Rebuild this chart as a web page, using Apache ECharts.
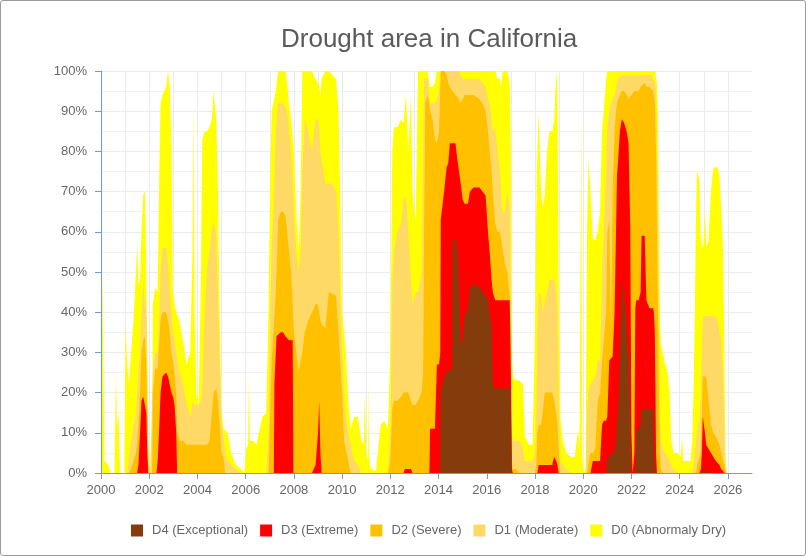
<!DOCTYPE html>
<html>
<head>
<meta charset="utf-8">
<script src="https://cdn.jsdelivr.net/npm/echarts@6/dist/echarts.min.js"></script>
<style>
html,body{margin:0;padding:0;background:#fff;}
#wrap{position:relative;width:806px;height:556px;}
#chart{width:806px;height:556px;}
#wrap:after{content:"";position:absolute;left:0;top:0;right:0;bottom:0;border:1px solid #9a9a9a;border-radius:3px;pointer-events:none;}
</style>
</head>
<body>
<div id="wrap"><div id="chart"></div></div>
<script>
// ---- data (decimal year, percent of California area) ----
const xTickYears = [2000,2002,2004,2006,2008,2010,2012,2014,2016,2018,2020,2022,2024,2026];
const seriesNames = ['D0 (Abnormaly Dry)','D1 (Moderate)','D2 (Severe)','D3 (Extreme)','D4 (Exceptional)'];
const legendOrder = ['D4 (Exceptional)','D3 (Extreme)','D2 (Severe)','D1 (Moderate)','D0 (Abnormaly Dry)'];

const d0 = [[2000.00,60],[2000.06,45],[2000.11,20],[2000.15,3],[2000.30,2],[2000.40,0],[2000.56,0],[2000.62,25],[2000.66,12],[2000.72,15],[2000.77,4],[2000.80,0],[2000.97,0],[2001.02,37],[2001.08,28],[2001.15,22],[2001.25,30],[2001.35,38],[2001.45,50],[2001.50,57],[2001.55,47],[2001.62,48],[2001.68,60],[2001.75,69],[2001.82,70],[2001.88,50],[2001.92,30],[2001.96,8],[2002.04,1],[2002.12,2],[2002.15,42],[2002.25,46],[2002.35,45],[2002.42,75],[2002.47,92],[2002.55,94],[2002.70,96],[2002.78,100],[2002.85,96],[2002.92,82],[2002.98,45],[2003.05,42],[2003.12,40],[2003.25,38],[2003.40,33],[2003.55,27],[2003.70,30],[2003.80,55],[2003.85,92],[2003.88,40],[2003.95,20],[2004.05,17],[2004.15,50],[2004.20,83],[2004.30,85],[2004.40,85],[2004.50,86],[2004.60,88],[2004.67,95],[2004.72,95],[2004.78,88],[2004.85,70],[2004.92,40],[2005.00,15],[2005.08,11],[2005.15,11],[2005.25,10],[2005.40,5],[2005.60,2],[2005.80,1],[2005.95,0],[2006.02,6],[2006.10,7],[2006.14,24],[2006.17,8],[2006.30,8],[2006.45,7],[2006.55,10],[2006.70,14],[2006.85,15],[2006.95,40],[2007.02,75],[2007.08,90],[2007.15,92],[2007.25,95],[2007.35,100],[2007.65,100],[2007.72,97],[2007.80,92],[2007.88,88],[2007.93,85],[2008.00,80],[2008.10,65],[2008.20,55],[2008.28,70],[2008.35,100],[2008.75,100],[2008.90,98],[2009.00,97],[2009.05,96],[2009.10,94],[2009.15,98],[2009.30,100],[2009.45,100],[2009.60,99],[2009.75,98],[2009.85,90],[2009.92,70],[2010.00,40],[2010.08,35],[2010.15,30],[2010.25,18],[2010.35,11],[2010.50,14],[2010.65,14],[2010.80,8],[2010.90,7],[2010.95,20],[2011.00,5],[2011.08,3],[2011.11,22],[2011.14,2],[2011.20,1],[2011.40,0.5],[2011.60,12],[2011.75,13],[2011.90,11],[2012.00,30],[2012.08,80],[2012.15,86],[2012.30,86],[2012.45,88],[2012.55,87],[2012.65,94],[2012.75,80],[2012.85,94],[2012.92,70],[2013.05,62],[2013.15,100],[2013.55,100],[2013.62,97],[2013.65,96],[2013.75,96],[2013.85,97],[2013.93,100],[2016.35,100],[2016.45,98],[2016.55,98],[2016.60,96],[2016.65,100],[2016.85,100],[2016.95,97],[2017.00,80],[2017.04,30],[2017.08,24],[2017.20,23],[2017.35,23],[2017.50,22],[2017.58,9],[2017.75,7],[2017.90,7],[2018.00,35],[2018.05,65],[2018.10,80],[2018.15,90],[2018.25,70],[2018.32,66],[2018.40,69],[2018.50,80],[2018.60,85],[2018.72,85],[2018.80,88],[2018.88,100],[2018.93,95],[2018.98,50],[2019.05,14],[2019.15,8],[2019.30,5],[2019.50,4],[2019.65,4],[2019.75,9],[2019.80,11],[2019.85,4],[2019.90,4],[2019.92,90],[2019.94,90],[2019.96,5],[2020.00,1],[2020.05,0],[2020.10,1],[2020.16,60],[2020.22,78],[2020.30,70],[2020.40,58],[2020.50,58],[2020.60,60],[2020.70,65],[2020.78,85],[2020.85,90],[2020.95,98],[2021.00,100],[2022.97,100],[2023.02,98],[2023.06,97],[2023.10,90],[2023.14,60],[2023.18,40],[2023.22,32],[2023.30,30],[2023.40,27],[2023.50,25],[2023.58,20],[2023.65,8],[2023.75,5],[2023.90,5],[2024.05,4],[2024.10,9],[2024.15,3],[2024.45,3],[2024.52,8],[2024.58,21],[2024.63,40],[2024.68,65],[2024.72,75],[2024.78,75],[2024.82,73],[2024.88,55],[2024.92,60],[2024.96,56],[2025.00,57],[2025.05,66],[2025.10,56],[2025.20,58],[2025.30,70],[2025.40,76],[2025.58,76],[2025.65,74],[2025.72,66],[2025.80,55],[2025.86,25],[2025.90,5],[2025.94,0]];

const d1 = [[2000.00,0],[2001.08,0],[2001.15,3],[2001.25,8],[2001.35,12],[2001.45,15],[2001.50,20],[2001.55,25],[2001.62,30],[2001.68,40],[2001.75,47],[2001.82,47],[2001.88,40],[2001.92,20],[2001.96,3],[2002.04,0],[2002.12,0],[2002.15,25],[2002.25,30],[2002.35,30],[2002.42,40],[2002.47,50],[2002.55,56],[2002.70,56],[2002.78,52],[2002.85,45],[2002.92,40],[2002.98,35],[2003.05,33],[2003.12,30],[2003.16,28],[2003.25,25],[2003.40,22],[2003.55,17],[2003.70,14],[2003.80,18],[2003.88,17],[2004.05,17],[2004.15,18],[2004.20,20],[2004.30,40],[2004.40,51],[2004.50,55],[2004.60,61],[2004.72,62],[2004.78,58],[2004.85,45],[2004.92,28],[2005.00,12],[2005.08,9],[2005.15,5],[2005.25,3],[2005.40,2],[2005.60,1],[2005.80,0],[2006.85,0],[2006.95,10],[2007.02,40],[2007.08,55],[2007.15,65],[2007.25,85],[2007.35,92],[2007.55,92],[2007.65,91],[2007.72,90],[2007.80,85],[2007.88,80],[2007.93,75],[2008.00,65],[2008.10,55],[2008.20,50],[2008.28,55],[2008.35,75],[2008.45,88],[2008.60,85],[2008.75,80],[2008.90,88],[2009.00,88],[2009.05,85],[2009.10,80],[2009.15,78],[2009.30,72],[2009.60,72],[2009.75,70],[2009.85,60],[2009.92,45],[2010.00,30],[2010.08,18],[2010.15,14],[2010.25,10],[2010.35,7],[2010.50,3],[2010.65,2],[2010.80,0],[2011.90,0],[2012.00,10],[2012.08,46],[2012.15,55],[2012.30,60],[2012.45,62],[2012.55,68],[2012.65,69],[2012.75,60],[2012.85,48],[2012.92,42],[2013.05,45],[2013.15,45],[2013.30,50],[2013.36,80],[2013.40,98],[2013.55,98],[2013.62,93],[2013.65,92],[2013.85,92],[2013.93,93],[2014.02,95],[2014.07,98],[2014.09,100],[2014.85,100],[2014.92,99],[2015.00,98],[2015.70,98],[2015.82,97],[2015.95,96],[2016.05,93],[2016.12,92],[2016.20,88],[2016.25,85],[2016.35,86],[2016.45,80],[2016.55,75],[2016.65,65],[2016.75,65],[2016.85,70],[2016.95,65],[2017.00,40],[2017.04,10],[2017.08,8],[2017.35,8],[2017.50,6],[2017.58,3],[2017.90,3],[2018.00,5],[2018.05,12],[2018.10,35],[2018.15,45],[2018.25,44],[2018.32,40],[2018.40,40],[2018.50,45],[2018.60,48],[2018.80,48],[2018.88,45],[2018.93,40],[2018.98,20],[2019.05,3],[2019.15,2],[2019.30,1],[2019.50,0],[2020.10,0],[2020.16,15],[2020.22,21],[2020.30,22],[2020.40,23],[2020.50,24],[2020.60,28],[2020.70,28],[2020.78,50],[2020.85,60],[2020.95,75],[2021.00,86],[2021.08,90],[2021.15,92],[2021.22,92],[2021.30,94],[2021.36,96],[2021.40,97],[2021.45,98],[2021.52,98],[2021.60,99],[2022.85,99],[2022.90,98],[2022.97,97],[2023.02,95],[2023.06,85],[2023.10,60],[2023.14,40],[2023.18,15],[2023.22,8],[2023.30,6],[2023.40,5],[2023.50,4],[2023.58,3],[2023.65,2],[2023.75,1],[2023.90,0],[2024.52,0],[2024.58,2],[2024.63,5],[2024.68,8],[2024.72,10],[2024.78,12],[2024.82,13],[2024.88,20],[2024.92,32],[2024.96,39],[2025.50,39],[2025.58,38],[2025.65,35],[2025.72,33],[2025.80,25],[2025.86,10],[2025.90,2],[2025.94,0]];

const d2 = [[2000.00,0],[2001.15,0],[2001.25,1],[2001.35,3],[2001.45,5],[2001.50,8],[2001.55,12],[2001.62,20],[2001.68,30],[2001.75,33],[2001.82,34],[2001.88,28],[2001.92,12],[2001.96,0],[2002.12,0],[2002.15,20],[2002.25,26],[2002.35,26],[2002.42,33],[2002.47,38],[2002.55,40],[2002.70,40],[2002.78,38],[2002.85,35],[2002.92,30],[2002.98,28],[2003.05,25],[2003.12,20],[2003.16,10],[2003.25,8],[2003.40,8],[2003.55,7],[2004.40,7],[2004.50,8],[2004.60,15],[2004.67,20],[2004.78,21],[2004.85,18],[2004.92,12],[2005.00,5],[2005.08,4],[2005.15,0],[2006.95,0],[2007.02,15],[2007.08,28],[2007.15,35],[2007.25,45],[2007.35,63],[2007.45,65],[2007.55,65],[2007.65,64],[2007.72,60],[2007.80,55],[2007.88,50],[2007.93,45],[2008.00,35],[2008.10,30],[2008.20,25],[2008.28,28],[2008.35,30],[2008.45,35],[2008.60,38],[2008.75,40],[2008.90,42],[2009.00,42],[2009.05,40],[2009.10,38],[2009.15,37],[2009.30,36],[2009.45,45],[2009.75,44],[2009.85,35],[2009.92,28],[2010.00,20],[2010.08,8],[2010.15,6],[2010.25,3],[2010.35,0],[2011.90,0],[2012.00,3],[2012.08,16],[2012.15,18],[2012.30,18],[2012.45,19],[2012.55,20],[2012.75,20],[2012.85,18],[2012.92,17],[2013.05,17],[2013.15,18],[2013.30,20],[2013.36,25],[2013.40,60],[2013.45,92],[2013.55,94],[2013.62,92],[2013.65,90],[2013.75,88],[2013.85,83],[2013.93,82],[2014.02,85],[2014.07,95],[2014.09,100],[2014.25,100],[2014.33,99],[2014.40,97],[2014.47,96],[2014.57,95],[2014.70,94],[2014.78,94],[2014.85,93],[2014.92,92],[2015.00,93],[2015.08,94],[2015.45,94],[2015.70,93],[2015.82,92],[2015.95,90],[2016.05,85],[2016.12,80],[2016.20,75],[2016.25,70],[2016.35,62],[2016.45,60],[2016.55,60],[2016.65,56],[2016.75,52],[2016.85,50],[2016.95,44],[2017.00,30],[2017.04,3],[2017.08,1],[2017.20,1],[2017.35,0],[2018.00,0],[2018.05,2],[2018.10,10],[2018.15,12],[2018.25,12],[2018.32,15],[2018.40,20],[2018.72,20],[2018.80,18],[2018.88,15],[2018.93,12],[2018.98,6],[2019.05,0],[2020.16,0],[2020.22,3],[2020.30,5],[2020.40,5],[2020.50,6],[2020.60,18],[2020.70,20],[2020.78,28],[2020.85,28],[2020.95,40],[2021.00,60],[2021.08,63],[2021.15,35],[2021.22,70],[2021.30,85],[2021.36,90],[2021.40,92],[2021.45,93],[2021.52,94],[2021.60,95],[2021.70,95],[2021.80,94],[2021.88,93],[2021.95,93],[2022.00,94],[2022.05,94],[2022.12,95],[2022.30,95],[2022.38,96],[2022.55,97],[2022.62,96],[2022.75,96],[2022.90,95],[2022.93,94],[2022.97,92],[2023.02,80],[2023.06,60],[2023.10,40],[2023.14,20],[2023.18,5],[2023.22,1],[2023.30,0],[2024.68,0],[2024.72,2],[2024.78,3],[2024.82,4],[2024.88,6],[2024.92,15],[2024.96,24],[2025.10,24],[2025.20,18],[2025.30,12],[2025.40,10],[2025.50,9],[2025.58,8],[2025.65,7],[2025.72,5],[2025.80,3],[2025.86,2],[2025.90,0]];

const d3 = [[2000.00,0],[2001.50,0],[2001.55,2],[2001.62,10],[2001.68,18],[2001.75,19],[2001.82,19],[2001.88,15],[2001.92,5],[2001.96,0],[2002.30,0],[2002.35,3],[2002.42,12],[2002.47,20],[2002.55,24],[2002.70,25],[2002.78,24],[2002.85,22],[2002.92,20],[2002.98,19],[2003.05,17],[2003.12,10],[2003.16,0],[2007.17,0],[2007.19,22],[2007.28,34],[2007.45,35],[2007.55,35],[2007.65,34],[2007.80,33],[2007.95,33],[2007.98,0],[2008.75,0],[2008.90,2],[2009.00,10],[2009.05,18],[2009.10,5],[2009.15,0],[2012.55,0],[2012.60,1],[2012.85,1],[2012.92,0],[2013.62,0],[2013.65,11],[2013.85,11],[2013.93,27],[2014.02,27],[2014.07,30],[2014.09,63],[2014.15,66],[2014.25,71],[2014.33,76],[2014.40,77],[2014.47,82],[2014.70,82],[2014.78,78],[2014.85,75],[2014.92,72],[2015.00,68],[2015.08,67],[2015.22,67],[2015.30,70],[2015.45,71],[2015.70,71],[2015.82,70],[2015.95,69],[2016.05,60],[2016.12,55],[2016.20,48],[2016.25,45],[2016.35,43],[2016.95,43],[2017.00,25],[2017.04,1],[2017.08,0],[2018.10,0],[2018.15,2],[2018.72,2],[2018.75,3],[2018.80,4],[2018.88,3],[2018.93,2],[2018.98,0],[2020.30,0],[2020.40,3],[2020.70,3],[2020.78,12],[2020.85,13],[2020.95,13],[2021.00,14],[2021.08,28],[2021.22,29],[2021.30,40],[2021.36,60],[2021.40,74],[2021.45,78],[2021.52,85],[2021.60,88],[2021.63,88],[2021.70,87],[2021.80,85],[2021.88,82],[2021.95,61],[2022.00,10],[2022.05,0],[2022.12,5],[2022.16,41],[2022.20,43],[2022.30,43],[2022.38,45],[2022.42,59],[2022.55,59],[2022.62,43],[2022.75,41],[2022.90,41],[2022.93,40],[2022.97,35],[2023.02,5],[2023.06,0],[2024.82,0],[2024.88,1],[2024.92,5],[2024.96,14],[2025.00,14],[2025.05,10],[2025.10,7],[2025.20,6],[2025.30,5],[2025.40,4],[2025.50,3],[2025.58,3],[2025.65,2],[2025.72,1],[2025.80,0.5],[2025.86,0]];

const d4 = [[2000.00,0],[2014.07,0],[2014.09,20],[2014.15,22],[2014.25,24],[2014.33,25],[2014.57,26],[2014.59,58],[2014.70,58],[2014.78,55],[2014.85,45],[2014.92,32],[2015.00,33],[2015.08,39],[2015.22,41],[2015.30,46],[2015.45,47],[2015.70,46],[2015.82,45],[2015.95,44],[2016.05,43],[2016.12,39],[2016.20,37],[2016.25,22],[2016.35,21],[2016.95,21],[2017.00,15],[2017.04,0],[2020.95,0],[2021.00,3],[2021.08,3],[2021.15,5],[2021.30,5],[2021.36,8],[2021.40,12],[2021.45,16],[2021.52,28],[2021.60,45],[2021.63,48],[2021.70,44],[2021.80,35],[2021.88,28],[2021.95,14],[2022.00,0],[2022.16,0],[2022.20,10],[2022.38,12],[2022.42,16],[2022.90,16],[2022.93,6],[2022.97,0],[2024.92,0],[2024.96,0.5],[2025.10,0.5],[2025.20,0]];

const seriesData = [d0, d1, d2, d3, d4];
const seriesColors = ['#ffff00','#ffd966','#ffc000','#ff0000','#843c0c'];

// ---- chart ----
const axisBlue = '#6a9fd6';
const labelGray = '#666666';
const font = 'Liberation Sans, Arial, sans-serif';

const chart = echarts.init(document.getElementById('chart'), null, {renderer: 'canvas'});

const option = {
  animation: false,
  backgroundColor: '#ffffff',
  textStyle: {fontFamily: font},
  title: {
    text: 'Drought area in California',
    left: 276, top: 22,
    textStyle: {fontSize: 26, fontWeight: 'normal', color: '#5a5a5a', fontFamily: font}
  },
  legend: {
    data: legendOrder,
    left: 126, top: 519,
    icon: 'rect', itemWidth: 12, itemHeight: 12, itemGap: 12,
    textStyle: {fontSize: 13, color: labelGray, fontFamily: font, padding: [0, 0, 0, 4]}
  },
  grid: {left: 101, right: 54, top: 71, bottom: 83, containLabel: false},
  xAxis: [
    {
      type: 'value', min: 2000, max: 2027, interval: 1,
      axisLine: {show: false}, axisTick: {show: false}, axisLabel: {show: false},
      splitLine: {show: true, showMaxLine: false, lineStyle: {color: '#ebebeb', width: 1}}
    },
    {
      type: 'value', min: 2000, max: 2027, interval: 1, position: 'bottom', z: 10,
      axisLine: {show: true, lineStyle: {color: axisBlue, width: 1}},
      axisTick: {show: true, length: 6, lineStyle: {color: axisBlue}, customValues: xTickYears},
      axisLabel: {show: true, color: labelGray, fontSize: 13, margin: 11, fontFamily: font,
                  customValues: xTickYears, formatter: v => String(v)},
      splitLine: {show: false}
    }
  ],
  yAxis: [
    {
      type: 'value', min: 0, max: 100, interval: 10,
      axisLine: {show: false}, axisTick: {show: false}, axisLabel: {show: false},
      splitLine: {show: true, lineStyle: {color: '#ebebeb', width: 1}},
      minorTick: {show: false, splitNumber: 2},
      minorSplitLine: {show: true, lineStyle: {color: '#f1f1f1', width: 1}}
    },
    {
      type: 'value', min: 0, max: 100, interval: 10, position: 'left', z: 10,
      axisLine: {show: true, lineStyle: {color: axisBlue, width: 1}},
      axisTick: {show: true, length: 6, lineStyle: {color: axisBlue}},
      axisLabel: {show: true, color: labelGray, fontSize: 13, margin: 14, fontFamily: font, formatter: '{value}%'},
      splitLine: {show: false}
    }
  ],
  series: seriesNames.map((name, i) => ({
    name: name,
    type: 'line',
    xAxisIndex: 0, yAxisIndex: 0,
    data: seriesData[i],
    showSymbol: false, symbol: 'none',
    color: seriesColors[i],
    itemStyle: {color: seriesColors[i]},
    lineStyle: {width: 0, color: seriesColors[i]},
    areaStyle: {color: seriesColors[i], opacity: 1},
    z: 2 + i,
    silent: true
  }))
};
chart.setOption(option);
</script>
</body>
</html>
